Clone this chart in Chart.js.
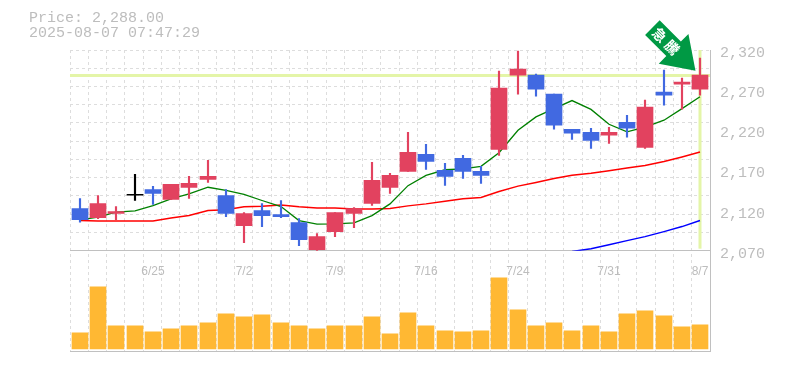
<!DOCTYPE html>
<html><head><meta charset="utf-8">
<script src="https://cdn.jsdelivr.net/npm/chart.js@4"></script>
<style>html,body{margin:0;padding:0;background:#fff}#w{width:785px;height:370px}</style></head>
<body><div id="w"><canvas id="c" width="785" height="370"></canvas></div>
<script>
const dates=['6/19','6/20','6/23','6/24','6/25','6/26','6/27','6/30','7/1','7/2','7/3','7/4','7/7','7/8','7/9','7/10','7/11','7/14','7/15','7/16','7/17','7/18','7/22','7/23','7/24','7/25','7/28','7/29','7/30','7/31','8/1','8/4','8/5','8/6','8/7'];
const shownDates=['6/25','7/2','7/9','7/16','7/24','7/31','8/7'];
const bodyTop=[2122.5,2128.75,2118.75,2140,2146.25,2152.5,2153.75,2162.5,2138.75,2116.25,2120,2115,2105,2087.5,2117.5,2122.5,2157.5,2163.75,2192.5,2190,2170,2185,2168.75,2272.5,2296.25,2288.75,2265,2221.25,2217.5,2217.5,2230,2248.75,2267.5,2280,2288.75];
const bodyBottom=[2108.75,2111.25,2116.25,2139,2141.25,2133.75,2148.75,2158.75,2116.25,2101.25,2113.75,2112.5,2083.75,2071.25,2093.75,2116.25,2128.75,2148.75,2168.75,2181.25,2162.5,2168.75,2163.75,2196.25,2288.75,2271.25,2226.25,2216.25,2207.5,2213.75,2222.5,2198.75,2263.75,2277.5,2271.25];
const highs=[2135,2138.75,2125,2165,2150,2152.5,2162.5,2182.5,2146.25,2117.5,2128.75,2132.5,2110,2091.25,2117.5,2123.75,2180,2166.25,2217.5,2202.5,2178.75,2188.75,2175,2293.75,2318.75,2290,2265,2221.25,2222.5,2223.75,2238.75,2257.5,2295,2285,2310];
const lows=[2105.4,2110,2108.75,2132.5,2127.5,2133.75,2135,2155,2112.5,2080,2100,2111.25,2076.25,2070,2087.5,2098.75,2126.25,2141.25,2168.75,2171.25,2151.25,2160,2153.75,2188.75,2265,2262.5,2221.25,2208.75,2197.5,2203.75,2211.25,2197.5,2251.25,2246.25,2263.75];
const direction=['d','u','u','n','d','u','u','u','d','u','d','d','d','u','u','u','u','u','u','d','d','d','d','u','u','d','d','d','d','u','d','u','d','u','u'];
const ma5=[2108.3,2111.7,2118,2119.6,2126,2134.6,2140.8,2149,2145,2140,2132.5,2125,2107.5,2103,2103.3,2104.6,2113.75,2128.3,2151,2163.75,2170.8,2172,2175,2192,2220,2236.7,2247,2257,2246,2227.5,2218,2224,2232.5,2247,2261.7];
const ma25=[2107.5,2107,2107,2107,2107,2110.8,2113.75,2120,2121,2124.6,2125.4,2127,2124.6,2123.3,2123.3,2122,2122,2122.5,2125.8,2128.3,2131.7,2134.6,2136.25,2143.75,2150.4,2155,2160,2164,2166.5,2169.6,2172.9,2176,2181,2186.7,2192.9];
const ma75=[null,null,null,null,null,null,null,null,null,null,null,null,null,null,null,null,null,null,null,null,null,null,null,null,null,null,null,2069,2072.5,2077.5,2082.5,2087.5,2093.75,2100,2107.5];
const volume=[16,62,23,23,17,20,23,26,35,32,34,26,23,20,23,23,32,15,36,23,18,17,18,71,39,23,26,18,23,17,35,38,33,22,24];
const priceTicks=[2320,2270,2220,2170,2120,2070];
const headline=['Price: 2,288.00','2025-08-07 07:47:29'];
const badge=['急','騰'];
const lastClose=2288;

const UP='#e2425f',DOWN='#4169e1',FLAT='#000000',AXIS='#c0c0c0',GRID='#dddddd',TXT='#bdbdbd',HL='#e4f5a8',BADGE='#009944';
const colorOf=d=>d==='u'?UP:d==='d'?DOWN:FLAT;
const bodies=dates.map((_,i)=>[bodyBottom[i],bodyTop[i]]);
const wicks=dates.map((_,i)=>[lows[i],highs[i]]);
const fmt=v=>v.toLocaleString('en-US');

const overlay={
  id:'overlay',
  afterLayout(ch){
    // candles sit a little inside the grid bands, on whole pixels
    const x=ch.scales.x, inset=0.9;
    x._startPixel+=inset; x._length-=2*inset;
    if(!x._orig){x._orig=x.getPixelForValue;x.getPixelForValue=function(v,i){return Math.round(x._orig.call(x,v,i));};}
  },
  beforeDatasetsDraw(ch){
    const {ctx,chartArea:a,scales:{x,y}}=ch;
    const ly=y.getPixelForValue(lastClose), lx=x.getPixelForValue(dates.length-1);
    ctx.save();ctx.fillStyle=HL;
    ctx.fillRect(a.left,Math.round(ly)-2,a.right-a.left,3);
    ctx.fillRect(lx-1.5,y.top,3,y.bottom-y.top-2);
    ctx.restore();
  },
  afterDraw(ch){
    const {ctx,scales:{x,y}}=ch;
    ctx.save();
    ctx.fillStyle=TXT;ctx.font='15px "Liberation Mono"';ctx.textBaseline='middle';ctx.textAlign='left';
    headline.forEach((t,i)=>ctx.fillText(t,29,18+i*15));
    const tipX=x.getPixelForValue(dates.length-1)-4.5, tipY=y.getPixelForValue(highs[dates.length-1])+12.7;
    ctx.translate(tipX,tipY);ctx.rotate(Math.PI/4);
    ctx.fillStyle=BADGE;
    ctx.beginPath();
    ctx.moveTo(0,0);ctx.lineTo(-31,-21);ctx.lineTo(-31,-10.3);ctx.lineTo(-61,-10.3);ctx.lineTo(-61,10.3);ctx.lineTo(-31,10.3);ctx.lineTo(-31,21);
    ctx.closePath();ctx.fill();
    ctx.fillStyle='#fff';ctx.font='bold 14px "Noto Sans CJK JP"';ctx.textAlign='center';ctx.textBaseline='middle';
    ctx.fillText(badge[0],-50.5,0);ctx.fillText(badge[1],-33,0);
    ctx.restore();
  }
};
new Chart(document.getElementById('c'),{
  data:{labels:dates,datasets:[
    {type:'line',data:ma75,yAxisID:'y',borderColor:'#0000ff',borderWidth:1.5,pointRadius:0,tension:0,order:7},
    {type:'line',data:ma25,yAxisID:'y',borderColor:'#ff0000',borderWidth:1.5,pointRadius:0,tension:0,order:6},
    {type:'line',data:ma5,yAxisID:'y',borderColor:'#008000',borderWidth:1.3,pointRadius:0,tension:0,order:5},
    {type:'bar',data:wicks,yAxisID:'y',grouped:false,barThickness:1.5,backgroundColor:direction.map(colorOf),order:3},
    {type:'bar',data:bodies,yAxisID:'y',grouped:false,barThickness:16,minBarLength:1,backgroundColor:direction.map(colorOf),order:2},
    {type:'bar',data:volume,yAxisID:'vol',grouped:false,barThickness:16,backgroundColor:'#ffb833',order:1}
  ]},
  options:{
    responsive:false,animation:false,
    layout:{padding:{left:70,top:50,right:0,bottom:19}},
    plugins:{legend:{display:false},tooltip:{enabled:false},title:{display:false}},
    scales:{
      x:{type:'category',position:{y:2070},offset:true,
        grid:{display:false},
        border:{display:true,color:AXIS,width:1},
        ticks:{autoSkip:false,maxRotation:0,minRotation:0,padding:6,color:TXT,font:{family:'"Liberation Sans"',size:12},
          callback(v){const l=this.getLabelForValue(v);return shownDates.includes(l)?l:'';}}},
      xg:{type:'category',axis:'x',labels:dates,position:'bottom',offset:true,
        afterFit(s){s.height=0;},
        grid:{offset:true,color:GRID,drawTicks:false,lineWidth:1},
        border:{display:false,dash:[3,3]},
        ticks:{display:false}},
      y:{type:'linear',position:'right',stack:'p',stackWeight:2,min:2070,max:2320,
        afterBuildTicks(s){s.ticks=priceTicks.map(value=>({value}));},
        afterFit(s){s.width=75;},
        grid:{display:false},
        border:{display:true,color:AXIS,width:1},
        ticks:{padding:2,color:TXT,font:{family:'"Liberation Mono"',size:15,lineHeight:'6px'},
          callback(v){return ['',fmt(v)];}}},
      vol:{type:'linear',position:'right',stack:'p',stackWeight:1,min:-2,max:98,
        afterBuildTicks(s){s.ticks=[{value:-2}];},
        afterFit(s){s.width=75;},
        grid:{color:AXIS,drawTicks:false},
        border:{display:true,color:AXIS,width:1},
        ticks:{display:false}},
      yg:{type:'linear',position:'left',min:0,max:16.5,reverse:true,
        afterBuildTicks(s){const t=[];for(let i=0;i<=11;i++)t.push({value:i});s.ticks=t;},
        afterFit(s){s.width=0;},
        grid:{color:GRID,drawTicks:false},
        border:{display:false,dash:[3,3]},
        ticks:{display:false}}
    }
  },
  plugins:[overlay]
});
</script></body></html>
